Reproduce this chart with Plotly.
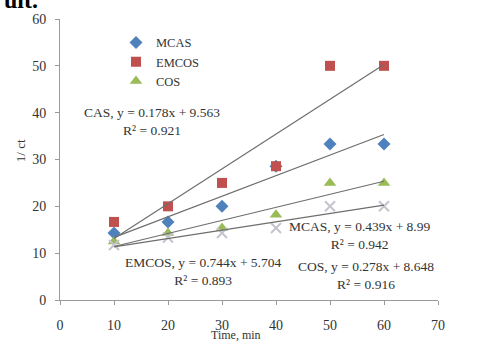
import numpy as np
import plotly.graph_objects as go

# Reaction time (min) and reciprocal concentration (1/ct) for each catalyst
time_min = [10, 20, 30, 40, 50, 60]
mcas = [14.29, 16.67, 20.0, 28.57, 33.33, 33.33]
emcos = [16.67, 20.0, 25.0, 28.57, 50.0, 50.0]
cos_ = [12.5, 14.29, 15.38, 18.18, 25.0, 25.0]
cas = [11.76, 13.33, 14.29, 15.38, 20.0, 20.0]

x_ticks = [0, 10, 20, 30, 40, 50, 60, 70]
y_ticks = [0, 10, 20, 30, 40, 50, 60]

SERIF = "Liberation Serif, Times New Roman, serif"
TXT = "#333333"

fig = go.Figure()

series = [
    ("MCAS", mcas, dict(symbol="diamond", size=10, color="#4F81BD"), True),
    ("EMCOS", emcos, dict(symbol="square", size=10, color="#C0504D"), True),
    ("COS", cos_, dict(symbol="triangle-up", size=11, color="#9BBB59"), True),
    ("CAS", cas, dict(symbol="x-thin", size=10, color="#C4C4D0",
                      line=dict(width=2, color="#C4C4D0")), False),
]

for name, ys, marker, show in series:
    fig.add_trace(go.Scatter(x=time_min, y=ys, mode="markers", name=name,
                             marker=marker, showlegend=show))

# Linear trendlines fitted to each series
xs = np.array(time_min, dtype=float)
for name, ys, _, _ in series:
    k, b = np.polyfit(xs, np.array(ys), 1)
    xl = np.array([xs.min(), xs.max()])
    fig.add_trace(go.Scatter(x=xl, y=k * xl + b, mode="lines",
                             line=dict(color="#6E6E6E", width=1.2),
                             showlegend=False, hoverinfo="skip"))

eq_font = dict(family=SERIF, size=13.5, color=TXT)
equations = [
    ("CAS, y = 0.178x + 9.563<br>R² = 0.921", 17.0, 38.1),
    ("EMCOS, y = 0.744x + 5.704<br>R² = 0.893", 26.4, 6.0),
    ("MCAS, y = 0.439x + 8.99<br>R² = 0.942", 55.4, 13.7),
    ("COS, y = 0.278x + 8.648<br>R² = 0.916", 56.6, 5.3),
]
for text, ax_, ay_ in equations:
    fig.add_annotation(x=ax_, y=ay_, text=text, showarrow=False,
                       font=eq_font, align="center", xanchor="center",
                       yanchor="middle")

# Axis titles
fig.add_annotation(xref="paper", yref="paper", x=(236 - 60) / 378,
                   y=-(341.5 - 305) / 289, text="Time, min", showarrow=False,
                   font=dict(family=SERIF, size=12, color=TXT),
                   xanchor="center", yanchor="middle")
fig.add_annotation(xref="paper", yref="paper", x=-(60 - 20) / 378,
                   y=(305 - 152) / 289, text="1/ ct", showarrow=False,
                   textangle=-90, font=dict(family=SERIF, size=13, color=TXT),
                   xanchor="center", yanchor="middle")

# Page heading fragment above the chart
fig.add_annotation(xref="paper", yref="paper", x=-(60 - 2) / 378,
                   y=1 + (16 - 12) / 289, text="<b>ult.</b>", showarrow=False,
                   font=dict(family=SERIF, size=24, color="#000000"),
                   xanchor="left", yanchor="bottom")

axis_common = dict(showgrid=False, zeroline=False, showline=True,
                   linecolor="#9A9A9A", linewidth=1, ticks="outside",
                   ticklen=4, tickcolor="#9A9A9A",
                   tickfont=dict(family=SERIF, size=14, color=TXT))

fig.update_xaxes(range=[0, 70], tickvals=x_ticks, ticklabelstandoff=8,
                 **axis_common)
fig.update_yaxes(range=[0, 60], tickvals=y_ticks, ticklabelstandoff=6,
                 **axis_common)

fig.update_layout(
    width=491, height=345,
    margin=dict(l=60, r=53, t=16, b=40),
    paper_bgcolor="white", plot_bgcolor="white",
    showlegend=True,
    legend=dict(x=(116 - 60) / 378, y=1 - (25 - 16) / 289, xanchor="left",
                yanchor="top", bgcolor="rgba(0,0,0,0)",
                font=dict(family=SERIF, size=12.5, color=TXT),
                tracegroupgap=0, itemwidth=30),
)

fig.write_html("out.html")
